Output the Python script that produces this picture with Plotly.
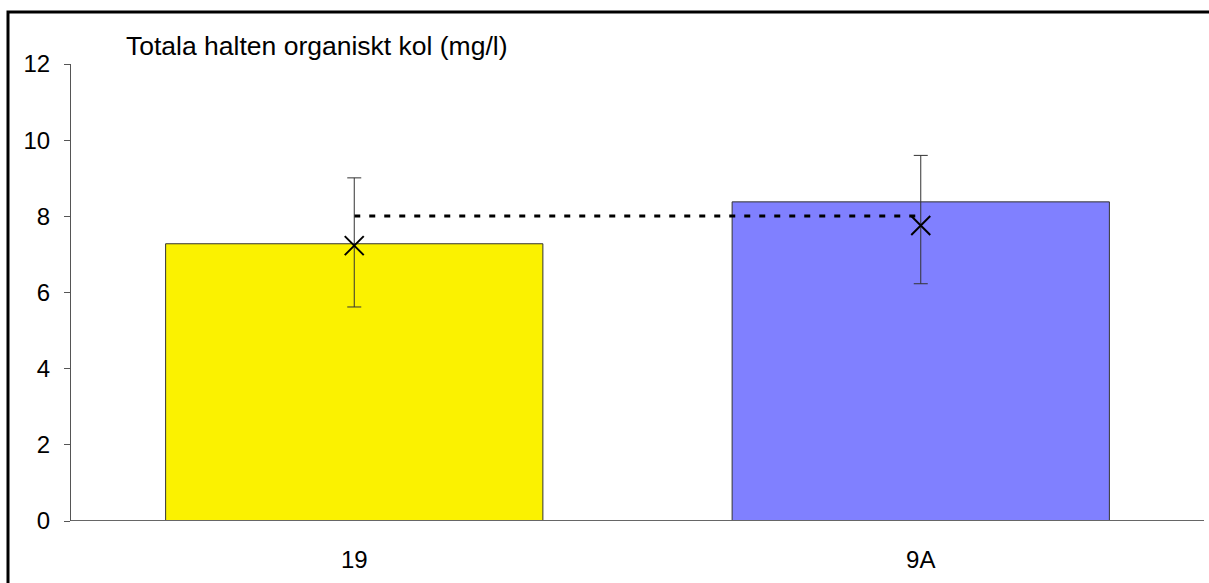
import plotly.graph_objects as go

categories = ["19", "9A"]
bar_values = [7.28, 8.38]
mean_values = [7.23, 7.76]
err_upper = [9.01, 9.60]
err_lower = [5.62, 6.23]
ref_level = [8.01, 8.01]
bar_colors = ["#FBF200", "#8080FF"]
y_ticks = [0, 2, 4, 6, 8, 10, 12]
title_text = "Totala halten organiskt kol (mg/l)"

W, H = 1209, 583
L, R, T, B = 71, 5, 64, 61.5
pw = W - L - R
ph = H - T - B

fig = go.Figure()
fig.add_trace(go.Bar(
    x=categories, y=bar_values,
    marker=dict(color=bar_colors, line=dict(color="#333333", width=1)),
    width=0.666, hoverinfo="skip", showlegend=False,
))
fig.add_trace(go.Scatter(
    x=categories, y=ref_level, mode="lines",
    line=dict(color="black", width=3, dash="6px,9px"),
    showlegend=False, hoverinfo="skip",
))
fig.add_trace(go.Scatter(
    x=categories, y=mean_values, mode="markers",
    marker=dict(symbol="x-thin", size=19, line=dict(color="black", width=2)),
    error_y=dict(
        type="data", symmetric=False,
        array=[u - m for u, m in zip(err_upper, mean_values)],
        arrayminus=[m - l for m, l in zip(mean_values, err_lower)],
        color="#333333", thickness=1, width=7,
    ),
    showlegend=False, hoverinfo="skip",
))

bx = (8 - L) / pw
by = (H - B - 12) / ph
bx1 = (W - L) / pw

fig.update_layout(
    width=W, height=H,
    margin=dict(l=L, r=R, t=T, b=B, pad=0),
    paper_bgcolor="white", plot_bgcolor="white",
    font=dict(family="Liberation Sans, Arial, sans-serif", size=24, color="black"),
    bargap=0.334,
    xaxis=dict(
        type="category", showgrid=False, zeroline=False,
        showline=False, ticks="", tickfont=dict(size=24),
        ticklabelstandoff=22,
        range=[-0.5, 1.5],
    ),
    yaxis=dict(
        range=[0, 12], tickvals=y_ticks, showgrid=False, zeroline=False,
        showline=True, linecolor="#555555", linewidth=1,
        ticks="outside", ticklen=6, tickcolor="#555555", tickwidth=1,
        tickfont=dict(size=24), ticklabelstandoff=9,
    ),
    shapes=[
        dict(type="line", xref="paper", yref="y", x0=0, x1=1, y0=0, y1=0,
             line=dict(color="#666666", width=2), layer="above"),
        dict(type="path", xref="paper", yref="paper",
             path=f"M {bx1},{by} L {bx},{by} L {bx},-0.2",
             line=dict(color="black", width=3), layer="above"),
    ],
    annotations=[
        dict(text=title_text, xref="paper", yref="paper",
             x=(124 - L) / pw, y=(H - B - 46) / ph,
             xanchor="left", yanchor="middle", showarrow=False,
             font=dict(size=26.5)),
    ],
)

fig.write_html("out.html", config={"displayModeBar": False})
